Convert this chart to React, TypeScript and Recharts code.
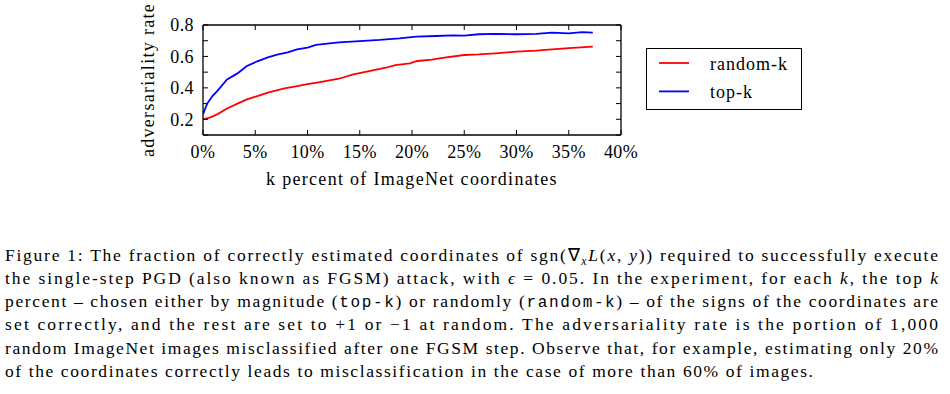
import React from 'react';
import { LineChart, Line, XAxis, YAxis, Legend } from 'recharts';

const FONT = 'Liberation Serif';
const MONO = 'Liberation Mono';

const X_TICKS = [0, 5, 10, 15, 20, 25, 30, 35, 40];
const Y_TICKS = [0.1, 0.2, 0.3, 0.4, 0.5, 0.6, 0.7, 0.8];
const X_DOMAIN = [0, 40];
const Y_DOMAIN = [0.1, 0.8];
const X_LABEL = 'k percent of ImageNet coordinates';
const Y_LABEL = 'adversariality rate';

const RANDOM_K_X = [0, 0.7, 1.4, 2.3, 3.3, 4.2, 5.2, 6.2, 7.8, 9.0, 10.0, 11.2, 13.0, 14.4, 15.9, 17.5, 18.4, 19.8, 20.5, 21.9, 23.1, 25.0, 26.4, 28.0, 30.0, 31.9, 33.4, 35.0, 37.3];
const RANDOM_K_Y = [0.199, 0.212, 0.233, 0.269, 0.30, 0.327, 0.348, 0.369, 0.397, 0.411, 0.424, 0.437, 0.458, 0.486, 0.507, 0.528, 0.545, 0.556, 0.571, 0.579, 0.592, 0.609, 0.613, 0.62, 0.63, 0.637, 0.645, 0.653, 0.662];

const TOP_K_X = [0, 0.4, 0.9, 1.4, 2.3, 3.3, 4.2, 5.2, 6.2, 7.1, 8.1, 9.0, 10.0, 10.8, 11.9, 13.0, 15.0, 16.9, 18.8, 20.4, 22.3, 23.9, 25.0, 26.4, 28.0, 30.0, 31.9, 33.4, 35.0, 36.3, 37.3];
const TOP_K_Y = [0.233, 0.30, 0.348, 0.382, 0.454, 0.492, 0.539, 0.569, 0.594, 0.611, 0.626, 0.645, 0.656, 0.673, 0.681, 0.69, 0.698, 0.705, 0.715, 0.726, 0.73, 0.734, 0.732, 0.741, 0.743, 0.741, 0.743, 0.751, 0.747, 0.755, 0.751];

const SERIES = [
  { name: 'random-k', color: '#ff0000', xs: RANDOM_K_X, ys: RANDOM_K_Y },
  { name: 'top-k', color: '#0000ff', xs: TOP_K_X, ys: TOP_K_Y },
];

const seriesData = SERIES.map((s) => s.xs.map((k, i) => ({ k, v: s.ys[i] })));

const fmtY = (v: number) => {
  const t = Math.round(v * 10);
  return t % 2 === 0 ? (t / 10).toFixed(1) : '';
};
const blank = () => '';

const renderLegend = (props: any) => {
  const payload = props.payload || [];
  return (
    <div
      style={{
        width: 156,
        height: 62,
        boxSizing: 'border-box',
        border: '1.3px solid #000',
        background: '#fff',
      }}
    >
      <svg width={154} height={60} style={{ display: 'block' }}>
        {payload.map((p: any, i: number) => (
          <g key={p.value}>
            <line x1={12} x2={42} y1={14 + i * 28.4} y2={14 + i * 28.4} stroke={p.color} strokeWidth={1.8} />
            <text x={63} y={21 + i * 28.4} style={{ fontFamily: FONT, fontSize: 18, letterSpacing: 1 }} fill="#000">
              {p.value}
            </text>
          </g>
        ))}
      </svg>
    </div>
  );
};

const tickText = { fill: '#000', fontSize: 18, style: { fontFamily: FONT, letterSpacing: 0.4 } };
const frame = { stroke: '#000', strokeWidth: 1.3 };

const CAP_X = 5;
const CAP_W = 933;
const CAP_BASE = 260.7;
const CAP_LH = 23.2;
const CAP_LAST_W = 808;
const capStyle = { fontFamily: FONT, fontSize: 17.5 };
const monoStyle = { fontFamily: MONO, fontSize: 16 };

export default function App() {
  const lineY = (i: number) => CAP_BASE + i * CAP_LH;
  return (
    <div style={{ position: 'absolute', left: 0, top: 0, width: 950, height: 394, background: '#fff', overflow: 'hidden' }}>
      <div style={{ position: 'absolute', left: 0, top: 0 }}>
        <LineChart width={950} height={200} margin={{ top: 25, right: 329, bottom: 5, left: 0 }}>
          <XAxis
            xAxisId="b"
            type="number"
            dataKey="k"
            domain={X_DOMAIN}
            ticks={X_TICKS}
            allowDataOverflow
            tickFormatter={(v: number) => `${v}%`}
            tickLine={false}
            tickSize={0}
            tickMargin={10}
            height={60}
            axisLine={frame}
            tick={tickText}
            label={{
              value: X_LABEL,
              position: 'insideBottom',
              offset: 10,
              fill: '#000',
              fontSize: 18,
              style: { fontFamily: FONT, letterSpacing: 1.3 },
            }}
          />
          <XAxis
            xAxisId="bm"
            type="number"
            dataKey="k"
            domain={X_DOMAIN}
            ticks={X_TICKS}
            allowDataOverflow
            orientation="bottom"
            mirror
            tickSize={5}
            tickLine={{ stroke: '#000', strokeWidth: 1 }}
            axisLine={false}
            tickFormatter={blank}
          />
          <XAxis
            xAxisId="t"
            type="number"
            dataKey="k"
            domain={X_DOMAIN}
            ticks={X_TICKS}
            allowDataOverflow
            orientation="top"
            mirror
            tickSize={5}
            tickLine={{ stroke: '#000', strokeWidth: 1 }}
            axisLine={frame}
            tickFormatter={blank}
          />
          <YAxis
            yAxisId="l"
            type="number"
            domain={Y_DOMAIN}
            ticks={Y_TICKS}
            allowDataOverflow
            width={203}
            tickFormatter={fmtY}
            tickLine={false}
            tickSize={0}
            tickMargin={9}
            axisLine={frame}
            tick={tickText}
            label={{
              value: Y_LABEL,
              angle: -90,
              position: 'insideLeft',
              offset: 148,
              fill: '#000',
              fontSize: 18,
              style: { textAnchor: 'middle', fontFamily: FONT, letterSpacing: 1.3 },
            }}
          />
          <YAxis
            yAxisId="lm"
            type="number"
            domain={Y_DOMAIN}
            ticks={Y_TICKS}
            allowDataOverflow
            orientation="left"
            mirror
            tickSize={5}
            tickLine={{ stroke: '#000', strokeWidth: 1 }}
            axisLine={false}
            tickFormatter={blank}
          />
          <YAxis
            yAxisId="r"
            type="number"
            domain={Y_DOMAIN}
            ticks={Y_TICKS}
            allowDataOverflow
            orientation="right"
            mirror
            tickSize={5}
            tickLine={{ stroke: '#000', strokeWidth: 1 }}
            axisLine={frame}
            tickFormatter={blank}
          />
          {SERIES.map((s, i) => (
            <Line
              key={s.name}
              xAxisId="b"
              yAxisId="l"
              data={seriesData[i]}
              dataKey="v"
              name={s.name}
              type="linear"
              stroke={s.color}
              strokeWidth={1.8}
              dot={false}
              activeDot={false}
              isAnimationActive={false}
            />
          ))}
          <Legend
            layout="horizontal"
            verticalAlign="middle"
            align="center"
            wrapperStyle={{ left: 646, top: 48, width: 156, height: 62 }}
            content={renderLegend}
          />
        </LineChart>
      </div>
      <svg width={950} height={394} style={{ position: 'absolute', left: 0, top: 0, pointerEvents: 'none' }}>
        <g fill="#000" style={capStyle}>
          <text x={CAP_X} y={lineY(0)} textLength={CAP_W} lengthAdjust="spacing">
            Figure 1: The fraction of correctly estimated coordinates of sgn(∇
            <tspan fontStyle="italic" fontSize={12} dy={4}>x</tspan>
            <tspan fontStyle="italic" dy={-4}>L</tspan>(<tspan fontStyle="italic">x</tspan>, <tspan fontStyle="italic">y</tspan>)) required to successfully execute
          </text>
          <text x={CAP_X} y={lineY(1)} textLength={CAP_W} lengthAdjust="spacing">
            the single-step PGD (also known as FGSM) attack, with <tspan fontStyle="italic">ϵ</tspan> = 0.05. In the experiment, for each <tspan fontStyle="italic">k</tspan>, the top <tspan fontStyle="italic">k</tspan>
          </text>
          <text x={CAP_X} y={lineY(2)} textLength={CAP_W} lengthAdjust="spacing">
            percent – chosen either by magnitude (<tspan style={monoStyle}>top-k</tspan>) or randomly (<tspan style={monoStyle}>random-k</tspan>) – of the signs of the coordinates are
          </text>
          <text x={CAP_X} y={lineY(3)} textLength={CAP_W} lengthAdjust="spacing">
            set correctly, and the rest are set to +1 or −1 at random. The adversariality rate is the portion of 1,000
          </text>
          <text x={CAP_X} y={lineY(4)} textLength={CAP_W} lengthAdjust="spacing">
            random ImageNet images misclassified after one FGSM step. Observe that, for example, estimating only 20%
          </text>
          <text x={CAP_X} y={lineY(5)} textLength={CAP_LAST_W} lengthAdjust="spacing">
            of the coordinates correctly leads to misclassification in the case of more than 60% of images.
          </text>
        </g>
      </svg>
    </div>
  );
}
